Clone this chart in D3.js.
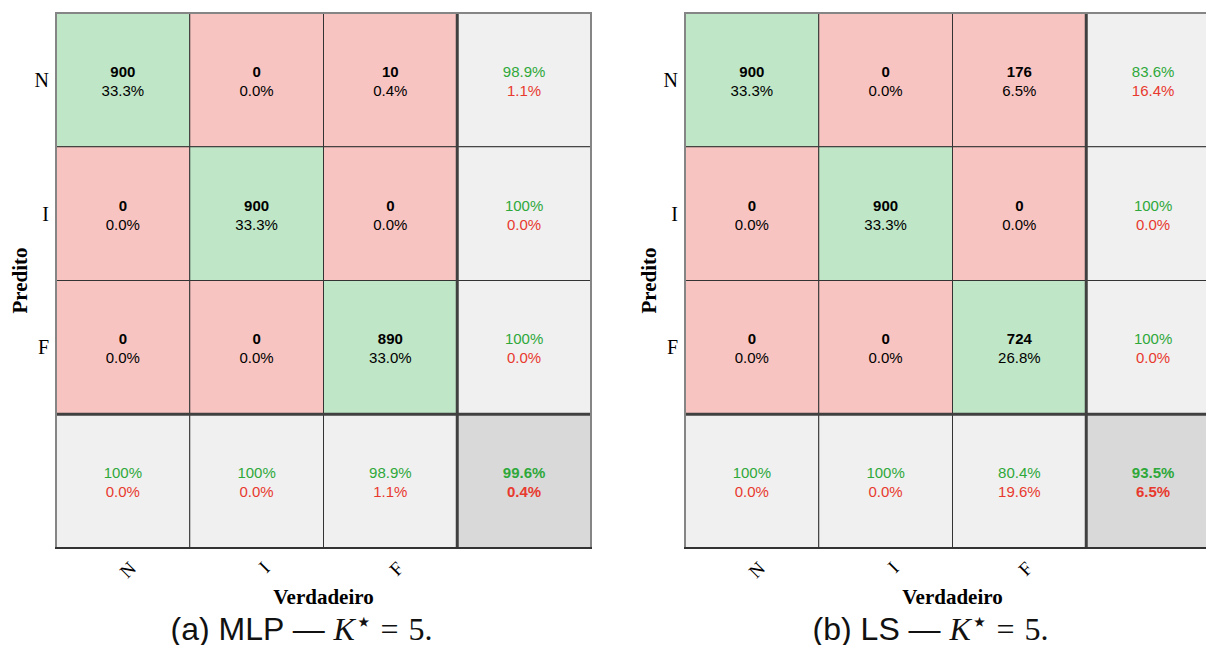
<!DOCTYPE html>
<html>
<head>
<meta charset="utf-8">
<script src="https://cdn.jsdelivr.net/npm/d3@7"></script>
<style>
  html, body { margin: 0; padding: 0; background: #fff; overflow: hidden; }
  svg { display: block; }
</style>
</head>
<body>
<svg id="chart" width="1206" height="645"></svg>
<script>
// Class labels shared by both confusion matrices
const classes = ["N", "I", "F"];
const models = ["MLP", "LS"];
const panelTags = ["(a)", "(b)"];

// Counts: rows = predicted class, columns = true class
const countsMLP = [[900, 0, 10], [0, 900, 0], [0, 0, 890]];
const countsLS  = [[900, 0, 176], [0, 900, 0], [0, 0, 724]];

// Share of all samples in each cell (%)
const shareMLP = [[33.3, 0.0, 0.4], [0.0, 33.3, 0.0], [0.0, 0.0, 33.0]];
const shareLS  = [[33.3, 0.0, 6.5], [0.0, 33.3, 0.0], [0.0, 0.0, 26.8]];

// Row summaries (precision per predicted class), correct / wrong %
const rowOkMLP  = [98.9, 100, 100];
const rowErrMLP = [1.1, 0.0, 0.0];
const rowOkLS   = [83.6, 100, 100];
const rowErrLS  = [16.4, 0.0, 0.0];

// Column summaries (recall per true class), correct / wrong %
const colOkMLP  = [100, 100, 98.9];
const colErrMLP = [0.0, 0.0, 1.1];
const colOkLS   = [100, 100, 80.4];
const colErrLS  = [0.0, 0.0, 19.6];

// Overall accuracy / error %
const totalMLP = [99.6, 0.4];
const totalLS  = [93.5, 6.5];

const panels = [
  { model: models[0], tag: panelTags[0], counts: countsMLP, share: shareMLP,
    rowOk: rowOkMLP, rowErr: rowErrMLP, colOk: colOkMLP, colErr: colErrMLP, total: totalMLP, x0: 56 },
  { model: models[1], tag: panelTags[1], counts: countsLS, share: shareLS,
    rowOk: rowOkLS, rowErr: rowErrLS, colOk: colOkLS, colErr: colErrLS, total: totalLS, x0: 685 }
];

const COL = {
  good: "#bfe6c6", bad: "#f8c4c1", summary: "#f0f0f0", total: "#d9d9d9",
  okText: "#2ea83a", errText: "#e8392e", grid: "#333333", thick: "#404040", frame: "#858585"
};
const SANS = "'Liberation Sans', Arial, sans-serif";
const SERIF = "'Liberation Serif', 'Times New Roman', serif";

const fmt = v => (v === 100 ? "100%" : v.toFixed(1) + "%");

const svg = d3.select("#chart");
const y0 = 13, size = 535;

panels.forEach(p => {
  const idx = d3.range(4);
  const x = d3.scaleBand().domain(idx).range([p.x0, p.x0 + size]);
  const y = d3.scaleBand().domain(idx).range([y0, y0 + size]);
  const w = x.bandwidth(), h = y.bandwidth();
  const g = svg.append("g");

  // Build the 4x4 grid of cells: 3x3 matrix + summary row/column
  const cells = [];
  for (let r = 0; r < 4; r++) {
    for (let c = 0; c < 4; c++) {
      let fill, top, bottom, bold, topColor, bottomColor;
      if (r < 3 && c < 3) {
        fill = r === c ? COL.good : COL.bad;
        top = String(p.counts[r][c]);
        bottom = p.share[r][c].toFixed(1) + "%";
        bold = "count";
        topColor = "#000"; bottomColor = "#000";
      } else if (r < 3 && c === 3) {
        fill = COL.summary; top = fmt(p.rowOk[r]); bottom = fmt(p.rowErr[r]);
        topColor = COL.okText; bottomColor = COL.errText; bold = "none";
      } else if (r === 3 && c < 3) {
        fill = COL.summary; top = fmt(p.colOk[c]); bottom = fmt(p.colErr[c]);
        topColor = COL.okText; bottomColor = COL.errText; bold = "none";
      } else {
        fill = COL.total; top = fmt(p.total[0]); bottom = fmt(p.total[1]);
        topColor = COL.okText; bottomColor = COL.errText; bold = "both";
      }
      cells.push({ r, c, fill, top, bottom, bold, topColor, bottomColor });
    }
  }

  g.selectAll("rect.cell").data(cells).join("rect")
    .attr("class", "cell")
    .attr("x", d => x(d.c)).attr("y", d => y(d.r))
    .attr("width", w).attr("height", h)
    .attr("fill", d => d.fill)
    .attr("stroke", COL.grid).attr("stroke-width", 1);

  g.selectAll("text.top").data(cells).join("text")
    .attr("class", "top")
    .attr("x", d => x(d.c) + w / 2).attr("y", d => y(d.r) + h / 2 - 3)
    .attr("text-anchor", "middle")
    .attr("font-family", SANS).attr("font-size", 15)
    .attr("font-weight", d => (d.bold === "count" || d.bold === "both") ? "bold" : "normal")
    .attr("fill", d => d.topColor)
    .text(d => d.top);

  g.selectAll("text.bottom").data(cells).join("text")
    .attr("class", "bottom")
    .attr("x", d => x(d.c) + w / 2).attr("y", d => y(d.r) + h / 2 + 16)
    .attr("text-anchor", "middle")
    .attr("font-family", SANS).attr("font-size", 15)
    .attr("font-weight", d => d.bold === "both" ? "bold" : "normal")
    .attr("fill", d => d.bottomColor)
    .text(d => d.bottom);

  // Thick separators between the matrix and its summaries
  g.append("line")
    .attr("x1", x(3)).attr("x2", x(3)).attr("y1", y0).attr("y2", y0 + size)
    .attr("stroke", COL.thick).attr("stroke-width", 3);
  g.append("line")
    .attr("x1", p.x0).attr("x2", p.x0 + size).attr("y1", y(3)).attr("y2", y(3))
    .attr("stroke", COL.thick).attr("stroke-width", 3);

  // Outer frame: grey on top/left/right, dark at the bottom
  g.append("path")
    .attr("d", `M${p.x0},${y0 + size} V${y0} H${p.x0 + size} V${y0 + size}`)
    .attr("fill", "none").attr("stroke", COL.frame).attr("stroke-width", 2);
  g.append("line")
    .attr("x1", p.x0 - 1).attr("x2", p.x0 + size + 1).attr("y1", y0 + size).attr("y2", y0 + size)
    .attr("stroke", COL.grid).attr("stroke-width", 2);

  // Predicted-class labels (rows)
  g.selectAll("text.rowlab").data(classes).join("text")
    .attr("class", "rowlab")
    .attr("x", p.x0 - 7).attr("y", (d, i) => y(i) + h / 2 + 7)
    .attr("text-anchor", "end")
    .attr("font-family", SERIF).attr("font-size", 20)
    .text(d => d);

  // True-class labels (columns), rotated
  g.selectAll("text.collab").data(classes).join("text")
    .attr("class", "collab")
    .attr("transform", (d, i) => `translate(${x(i) + w / 2 + 5},${y0 + size + 12}) rotate(-45)`)
    .attr("text-anchor", "end")
    .attr("dy", "0.7em")
    .attr("font-family", SERIF).attr("font-size", 19)
    .text(d => d);

  // Axis titles
  g.append("text")
    .attr("transform", `translate(${p.x0 - 29},${y0 + size / 2}) rotate(-90)`)
    .attr("text-anchor", "middle")
    .attr("font-family", SERIF).attr("font-size", 21).attr("font-weight", "bold")
    .text("Predito");
  g.append("text")
    .attr("x", p.x0 + size / 2).attr("y", 604)
    .attr("text-anchor", "middle")
    .attr("font-family", SERIF).attr("font-size", 21).attr("font-weight", "bold")
    .text("Verdadeiro");

  // Sub-figure caption
  const cap = g.append("text")
    .attr("x", p.x0 + size / 2 - 22).attr("y", 640)
    .attr("text-anchor", "middle")
    .attr("font-size", 32).attr("fill", "#111");
  cap.append("tspan").attr("font-family", SANS).text(`${p.tag} ${p.model} — `);
  cap.append("tspan").attr("font-family", SERIF).attr("font-style", "italic").text("K");
  cap.append("tspan").attr("font-family", "'DejaVu Sans', sans-serif").attr("font-size", 28)
    .attr("dx", 0).attr("dy", -9).text("⋆");
  cap.append("tspan").attr("font-family", SERIF).attr("dx", 8).attr("dy", 9).text("=");
  cap.append("tspan").attr("font-family", SERIF).attr("dx", 10).text("5.");
});
</script>
</body>
</html>
